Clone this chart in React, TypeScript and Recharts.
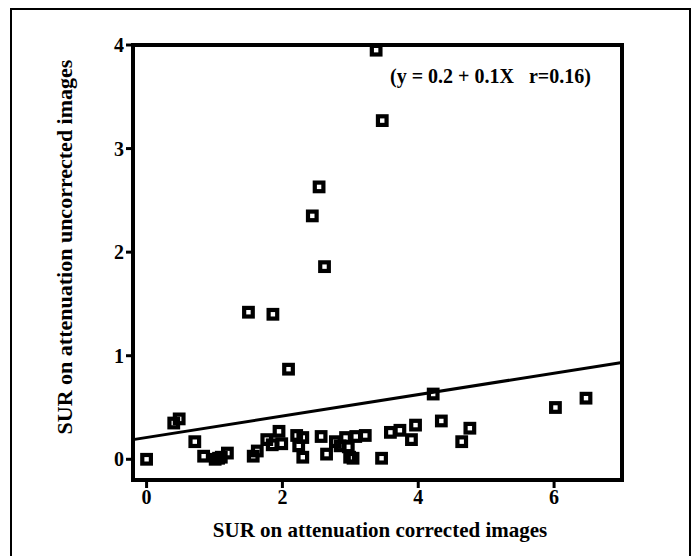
import React from "react";
import { ScatterChart, Scatter, XAxis, YAxis, ReferenceArea, ReferenceLine } from "recharts";

// SUR on attenuation corrected images (x)
const corrected = [
  0.0, 0.4, 0.48, 0.71, 0.84, 1.01, 1.06, 1.1, 1.19, 1.5,
  1.57, 1.63, 1.77, 1.86, 1.85, 1.95, 1.99, 2.09, 2.21, 2.24,
  2.3, 2.3, 2.44, 2.54, 2.57, 2.62, 2.65, 2.78, 2.85, 2.93,
  2.97, 2.99, 3.04, 3.08, 3.22, 3.38, 3.47, 3.46, 3.59, 3.73,
  3.9, 3.96, 4.22, 4.34, 4.64, 4.76, 6.02, 6.47,
];
// SUR on attenuation uncorrected images (y)
const uncorrected = [
  0.0, 0.35, 0.39, 0.17, 0.03, 0.0, 0.01, 0.02, 0.06, 1.42,
  0.03, 0.08, 0.19, 1.4, 0.14, 0.27, 0.15, 0.87, 0.23, 0.13,
  0.21, 0.02, 2.35, 2.63, 0.22, 1.86, 0.05, 0.17, 0.13, 0.21,
  0.12, 0.02, 0.01, 0.22, 0.23, 3.95, 3.27, 0.01, 0.26, 0.28,
  0.19, 0.33, 0.63, 0.37, 0.17, 0.3, 0.5, 0.59,
];
const xTicks = [0, 2, 4, 6];
const yTicks = [0, 1, 2, 3, 4];
const xDomain = [-0.2, 7];
const yDomain = [-0.2, 4];
// regression line endpoints (x, y)
const fitX = [-0.2, 7];
const fitY = [0.19, 0.935];
const equationText = "(y = 0.2 + 0.1X   r=0.16)";
const xTitle = "SUR on attenuation corrected images";
const yTitle = "SUR on attenuation uncorrected images";

const points = corrected.map((x, i) => ({ x, y: uncorrected[i] }));

const SquareMarker = (props: any) => {
  const { cx, cy } = props;
  if (cx == null || cy == null) return null;
  const s = 8.6;
  return (
    <rect x={cx - s / 2} y={cy - s / 2} width={s} height={s} fill="none" stroke="#000" strokeWidth={4.2} />
  );
};

const FONT = "'Liberation Serif', 'Times New Roman', serif";

export default function App() {
  return (
    <div style={{ position: "absolute", left: 0, top: 0, width: 694, height: 556, overflow: "hidden", background: "#fff", fontFamily: FONT }}>
      <div style={{ position: "absolute", left: 10, top: 8, width: 677, height: 600, borderLeft: "2px solid #000", borderTop: "2px solid #000", borderRight: "2px solid #000" }} />
      <ScatterChart width={694} height={556} margin={{ top: 45, right: 72, bottom: 36, left: 73 }} style={{ fontFamily: FONT }}>
        <XAxis
          type="number"
          dataKey="x"
          domain={xDomain}
          ticks={xTicks}
          allowDataOverflow
          axisLine={false}
          tickLine={{ stroke: "#000", strokeWidth: 3 }}
          tickSize={8}
          height={40}
          tick={{ fill: "#000", fontSize: 20, fontWeight: 700, fontFamily: FONT }}
        />
        <YAxis
          type="number"
          dataKey="y"
          domain={yDomain}
          ticks={yTicks}
          allowDataOverflow
          axisLine={false}
          tickLine={{ stroke: "#000", strokeWidth: 3 }}
          tickSize={7}
          width={60}
          tick={{ fill: "#000", fontSize: 20, fontWeight: 700, fontFamily: FONT }}
        />
        <ReferenceArea x1={xDomain[0]} x2={xDomain[1]} y1={yDomain[0]} y2={yDomain[1]} fill="none" stroke="#000" strokeWidth={4} ifOverflow="visible" />
        <ReferenceLine
          segment={[{ x: fitX[0], y: fitY[0] }, { x: fitX[1], y: fitY[1] }]}
          stroke="#000"
          strokeWidth={3}
          ifOverflow="visible"
        />
        <Scatter data={points} shape={SquareMarker} isAnimationActive={false} />
      </ScatterChart>
      <div style={{ position: "absolute", left: 390, top: 66, fontSize: 20, lineHeight: "20px", fontWeight: 700, whiteSpace: "pre", color: "#000" }}>
        {equationText}
      </div>
      <div style={{ position: "absolute", left: 180, top: 520, width: 400, textAlign: "center", fontSize: 21, lineHeight: "21px", fontWeight: 700, whiteSpace: "nowrap", color: "#000" }}>
        {xTitle}
      </div>
      <div style={{ position: "absolute", left: 65 - 210, top: 247 - 12, width: 420, height: 24, textAlign: "center", fontSize: 22, lineHeight: "24px", fontWeight: 700, whiteSpace: "nowrap", color: "#000", transform: "rotate(-90deg)", transformOrigin: "50% 50%" }}>
        {yTitle}
      </div>
    </div>
  );
}
